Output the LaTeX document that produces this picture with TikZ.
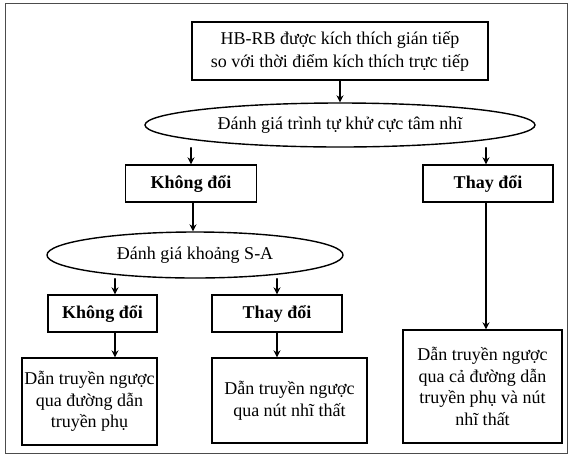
\documentclass[tikz,border=0pt]{standalone}
\usepackage{fontspec}
\setmainfont{Liberation Serif}
\usetikzlibrary{shapes.geometric,arrows.meta}
\begin{document}
\begin{tikzpicture}[x=1pt, y=-1pt, font=\fontsize{18}{21.5}\selectfont, line cap=round,
  box/.style={draw, line width=1.4pt, rectangle, align=center, inner sep=2pt},
  oval/.style={draw, line width=1.4pt, ellipse, align=center, inner sep=0pt},
  arr/.style={line width=1.4pt, -{Stealth[length=7pt,width=7pt]}}]
  \useasboundingbox (0,0) rectangle (572,456);
  \draw[black!70, line width=0.8pt] (5,3) rectangle (567,453);

  \node[box, minimum width=296, minimum height=58, font=\fontsize{18}{23}\selectfont] (start) at (340,51)
    {HB-RB được kích thích gián tiếp\\so với thời điểm kích thích trực tiếp};
  \node[oval, minimum width=390, minimum height=44] (seq) at (340,125)
    {Đánh giá trình tự khử cực tâm nhĩ};
  \node[box, minimum width=131, minimum height=37, font=\fontsize{18}{22}\selectfont\bfseries] (same) at (191,183.5) {Không đổi};
  \node[box, minimum width=130, minimum height=37, font=\fontsize{18}{22}\selectfont\bfseries] (diff) at (488,183.5) {Thay đổi};
  \node[oval, minimum width=296, minimum height=46] (sa) at (195,255)
    {Đánh giá khoảng S-A};
  \node[box, minimum width=109, minimum height=37, font=\fontsize{18}{22}\selectfont\bfseries] (saSame) at (102.5,313.5) {Không đổi};
  \node[box, minimum width=130, minimum height=37, font=\fontsize{18}{22}\selectfont\bfseries] (saDiff) at (277,313.5) {Thay đổi};
  \node[box, minimum width=135, minimum height=87] (accPath) at (89.5,401.5)
    {Dẫn truyền ngược\\qua đường dẫn\\truyền phụ};
  \node[box, minimum width=155, minimum height=85] (avNode) at (289.5,400.5)
    {Dẫn truyền ngược\\qua nút nhĩ thất};
  \node[box, minimum width=159, minimum height=113] (both) at (482.5,386.5)
    {Dẫn truyền ngược\\qua cả đường dẫn\\truyền phụ và nút\\nhĩ thất};

  \draw[arr] (start) -- (seq);
  \draw[arr] (same.north |- seq.south) -- (same.north);
  \draw[arr] ([xshift=-2pt]diff.north |- seq.south) -- ([xshift=-2pt]diff.north);
  \draw[arr] ([xshift=2pt]same.south) -- ([xshift=2pt]same.south |- sa.north);
  \draw[arr] ([xshift=12.5pt]saSame.north |- sa.south) -- ([xshift=12.5pt]saSame.north);
  \draw[arr] (saDiff.north |- sa.south) -- (saDiff.north);
  \draw[arr] ([xshift=12.5pt]saSame.south) -- ([xshift=12.5pt]saSame.south |- accPath.north);
  \draw[arr] (saDiff.south) -- (saDiff.south |- avNode.north);
  \draw[arr] ([xshift=-2pt]diff.south) -- ([xshift=-2pt]diff.south |- both.north);
\end{tikzpicture}
\end{document}
